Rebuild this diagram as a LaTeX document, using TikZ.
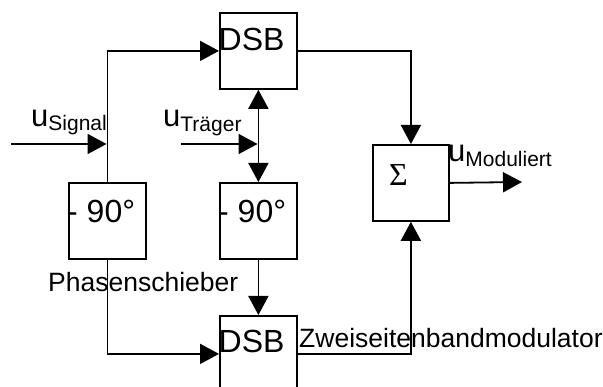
\documentclass[tikz,border=0pt]{standalone}
\usepackage{fontspec}
\setmainfont{Liberation Sans}
\newfontfamily\serifF{Liberation Serif}
\usetikzlibrary{arrows.meta}
\tikzset{
  blk/.style={draw, line width=1.8pt, minimum width=77pt, minimum height=76pt, inner sep=0pt, anchor=north west},
  conn/.style={line width=1.8pt},
  arr/.style={conn, -{Triangle[length=19pt,width=20pt]}},
  darr/.style={conn, {Triangle[length=19pt,width=20pt]}-{Triangle[length=19pt,width=20pt]}},
  txt/.style={inner sep=0pt, anchor=base west},
  big/.style={font=\fontsize{32}{32}\selectfont},
  lbl/.style={font=\fontsize{26.5}{26.5}\selectfont},
  uu/.style={font=\fontsize{31}{31}\selectfont},
}
\newcommand{\subtxt}[2]{\raisebox{-#1pt}{\fontsize{21}{21}\selectfont #2}}
\begin{document}
\begin{tikzpicture}[x=1pt,y=-1pt]
\useasboundingbox (0,0) rectangle (603,387);
\clip (0,0) rectangle (603,387);
% boxes
\node[blk] (dsbt) at (219,12) {};
\node[blk] (dsbb) at (219,315) {};
\node[blk] (lp) at (68,182) {};
\node[blk] (mp) at (219,182) {};
\node[blk, minimum width=76pt] (sig) at (372,144) {};
% texts
\node[txt,big] (tdsbt) at (218.5,51) {DSB};
\node[txt,big] (tdsbb) at (218.5,353) {DSB};
\node[txt,big] (tlp) at (67,223) {- 90°};
\node[txt,big] (tmp) at (218,223) {- 90°};
\node[txt,font=\serifF\fontsize{32}{32}\selectfont] (tsig) at (389,186) {Σ};
\node[txt,lbl] (phase) at (48,292) {Phasenschieber};
\node[txt,lbl] (zsb) at (299,348) {Zweiseitenbandmodulator};
\node[txt,uu] (usig) at (31,127) {u\subtxt{4}{Signal}};
\node[txt,uu] (utr) at (163,127) {u\subtxt{5}{Träger}};
\node[txt,uu] (umod) at (448,162) {u\subtxt{5}{Moduliert}};
% coordinates
\coordinate (sigin) at (11,144);
\coordinate (sigj) at (106.5,144);
\coordinate (trin) at (181,144);
\coordinate (trj) at (257.5,144);
\coordinate (out) at (522,182);
% connectors
\draw[arr] (lp.north) |- (dsbt.west);
\draw[arr] (sigin) -- (sigj);
\draw[arr] (trin) -- (trj);
\draw[darr] (dsbt.south) -- (mp.north);
\draw[arr] (lp.south) |- (dsbb.west);
\draw[arr] (mp.south) -- (dsbb.north);
\draw[arr] (dsbt.east) -| (sig.north);
\draw[arr] (dsbb.east) -| (sig.south);
\draw[arr] (sig.east) -- (out);
\end{tikzpicture}
\end{document}
